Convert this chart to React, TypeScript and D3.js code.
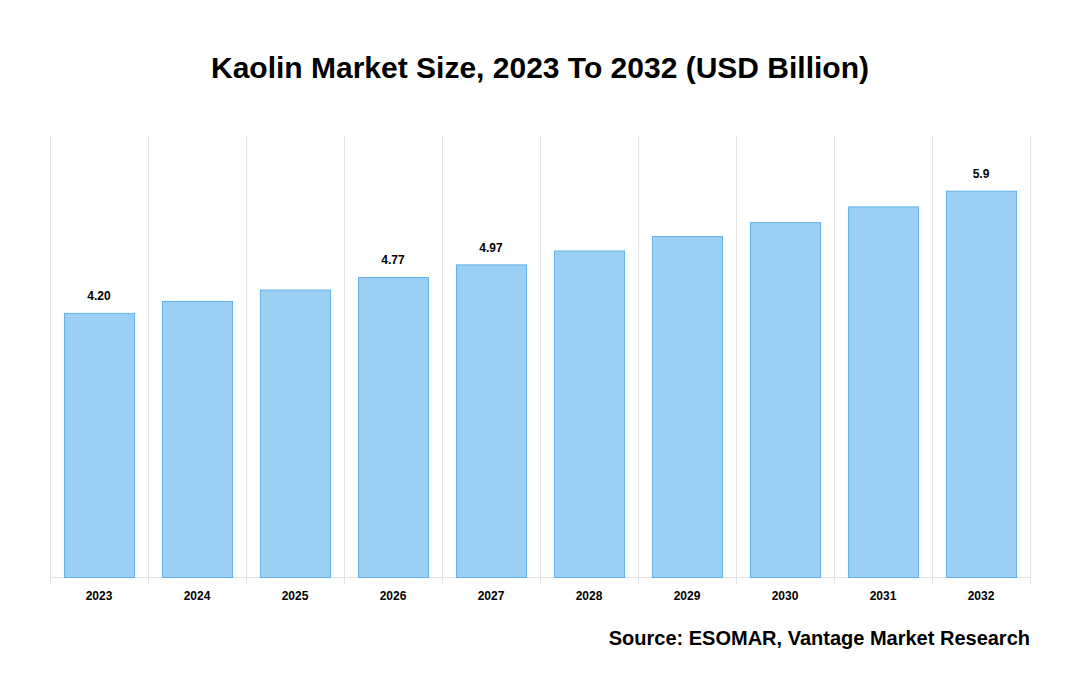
import { useEffect, useRef } from 'react';
import * as d3 from 'd3';

const years = ['2023', '2024', '2025', '2026', '2027', '2028', '2029', '2030', '2031', '2032'];
const values = [4.2, 4.39, 4.57, 4.77, 4.97, 5.19, 5.42, 5.64, 5.89, 6.14];
const valueLabels = ['4.20', '', '', '4.77', '4.97', '', '', '', '', '5.9'];

export default function App() {
  const svgRef = useRef<SVGSVGElement>(null);

  useEffect(() => {
    if (!svgRef.current) return;
    const svg = d3.select(svgRef.current);
    svg.selectAll('*').remove();

    const width = 1080;
    const height = 700;
    const margin = { top: 136, right: 50, bottom: 123, left: 50 };
    const chartWidth = width - margin.left - margin.right;
    const chartHeight = height - margin.top - margin.bottom;
    const font = '"Liberation Sans", Arial, sans-serif';

    svg.append('rect').attr('width', width).attr('height', height).attr('fill', '#fff');

    svg.append('text')
      .attr('x', width / 2)
      .attr('y', 78)
      .attr('text-anchor', 'middle')
      .style('font-family', font)
      .style('font-weight', 'bold')
      .style('font-size', '30px')
      .attr('fill', '#000')
      .text('Kaolin Market Size, 2023 To 2032 (USD Billion)');

    const g = svg.append('g')
      .attr('transform', `translate(${margin.left},${margin.top})`);

    const x = d3.scaleBand()
      .domain(years)
      .range([0, chartWidth])
      .paddingInner(0.285)
      .paddingOuter(0.1425);

    const y = d3.scaleLinear()
      .domain([0, 7])
      .range([chartHeight, 0]);

    // vertical grid lines at band boundaries
    const step = x.step();
    const bounds = d3.range(years.length + 1).map(i => i * step);
    g.selectAll('.grid')
      .data(bounds)
      .enter()
      .append('line')
      .attr('x1', d => d + 0.5)
      .attr('x2', d => d + 0.5)
      .attr('y1', 0)
      .attr('y2', chartHeight + 7)
      .attr('stroke', '#e3e3e3')
      .attr('stroke-width', 1);

    g.append('line')
      .attr('x1', 0)
      .attr('x2', chartWidth)
      .attr('y1', chartHeight + 0.5)
      .attr('y2', chartHeight + 0.5)
      .attr('stroke', '#e3e3e3');

    g.selectAll('.bar')
      .data(values)
      .enter()
      .append('rect')
      .attr('x', (_, i) => (x(years[i]) || 0) + 0.5)
      .attr('y', d => y(d) + 1)
      .attr('width', x.bandwidth())
      .attr('height', d => chartHeight - y(d) - 0.5)
      .attr('fill', '#9bd0f4')
      .attr('stroke', '#63b2ea')
      .attr('stroke-width', 1);

    g.selectAll('.vlabel')
      .data(values)
      .enter()
      .append('text')
      .attr('x', (_, i) => (x(years[i]) || 0) + x.bandwidth() / 2)
      .attr('y', d => y(d) - 12)
      .attr('text-anchor', 'middle')
      .style('font-family', font)
      .style('font-weight', 'bold')
      .style('font-size', '12px')
      .attr('fill', '#000')
      .text((_, i) => valueLabels[i]);

    g.selectAll('.xlabel')
      .data(years)
      .enter()
      .append('text')
      .attr('x', d => (x(d) || 0) + x.bandwidth() / 2)
      .attr('y', chartHeight + 23)
      .attr('text-anchor', 'middle')
      .style('font-family', font)
      .style('font-weight', 'bold')
      .style('font-size', '12px')
      .attr('fill', '#000')
      .text(d => d);

    svg.append('text')
      .attr('x', 1030)
      .attr('y', 645)
      .attr('text-anchor', 'end')
      .style('font-family', font)
      .style('font-weight', 'bold')
      .style('font-size', '20px')
      .attr('fill', '#000')
      .text('Source: ESOMAR, Vantage Market Research');
  }, []);

  return (
    <svg
      ref={svgRef}
      width={1080}
      height={700}
      style={{ position: 'absolute', left: 0, top: 0 }}
    />
  );
}
